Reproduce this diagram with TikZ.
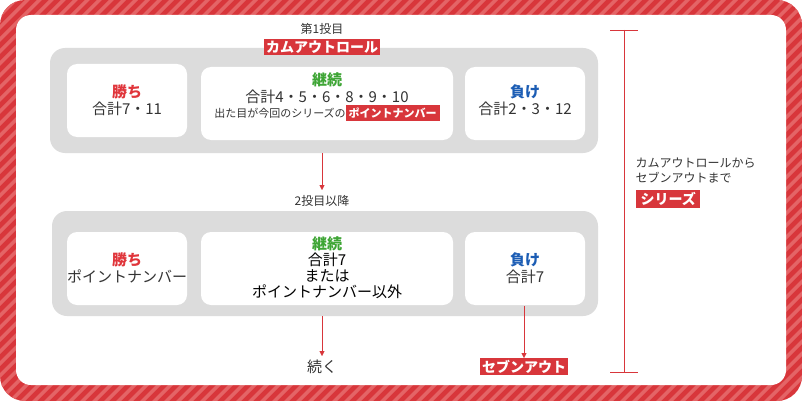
\documentclass[tikz,border=0pt]{standalone}
\usepackage{fontspec}
\setmainfont{Noto Sans CJK JP}
\usetikzlibrary{arrows.meta}
\definecolor{crapsred}{HTML}{D8363B}
\definecolor{stripe}{HTML}{E46466}
\definecolor{winred}{HTML}{E0353B}
\definecolor{contgreen}{HTML}{3EA535}
\definecolor{loseblue}{HTML}{1C5DB4}
\definecolor{panel}{HTML}{DCDCDC}
\definecolor{ink}{HTML}{333333}
\begin{document}
\begin{tikzpicture}[x=1pt,y=-1pt,font=\fontsize{15}{17}\selectfont\color{ink}]
\tikzstyle{cell}=[fill=white, rounded corners=10pt]
\tikzstyle{tag}=[fill=crapsred, text=white, font=\fontsize{14}{16}\selectfont\bfseries, inner sep=2pt]
\tikzstyle{flow}=[crapsred, -{Triangle[length=5pt,width=5pt]}]
\useasboundingbox (0,0) rectangle (802,401);

% Frame
\fill[crapsred, rounded corners=25pt] (0,0) rectangle (802,401);
\begin{scope}
\clip[rounded corners=25pt] (0,0) rectangle (802,401);
\foreach \s in {-400,-388,...,820}
\fill[stripe] (\s,401) -- (\s+5,401) -- (\s+406,0) -- (\s+401,0) -- cycle;
\end{scope}
\fill[white, rounded corners=15pt] (16,15) rectangle (786,385);

% Panels
\fill[panel, rounded corners=15pt] (50,48) rectangle (598,153);
\fill[panel, rounded corners=15pt] (52,211) rectangle (598,316);

% First roll
\fill[cell] (67,64) rectangle (187,137);
\fill[cell] (201,67) rectangle (453,140);
\fill[cell] (465,67) rectangle (585,140);
\node (win1) [align=center] at (127,100) {{\color{winred}\bfseries 勝ち}\\合計7・11};
\node (cont1) [align=center] at (327,97) {{\color{contgreen}\bfseries 継続}\\合計4・5・6・8・9・10\\[-2pt]{\fontsize{11}{13}\selectfont 出た目が今回のシリーズの\colorbox{crapsred}{\color{white}\bfseries ポイントナンバー}}};
\node (lose1) [align=center] at (525,100) {{\color{loseblue}\bfseries 負け}\\合計2・3・12};
\node (roll1) at (322,29) {\fontsize{12}{14}\selectfont 第1投目};
\node (comeout) [tag] at (322,47) {カムアウトロール};

% Later rolls
\fill[cell] (67,232) rectangle (187,305);
\fill[cell] (201,232) rectangle (453,305);
\fill[cell] (465,232) rectangle (585,305);
\node (win2) [align=center] at (127,268) {{\color{winred}\bfseries 勝ち}\\ポイントナンバー};
\node (cont2) [align=center, inner sep=0pt, font=\fontsize{15}{16}\selectfont] at (327,268) {{\color{contgreen}\bfseries 継続}\\合計7\\または\\ポイントナンバー以外};
\node (lose2) [align=center] at (525,268) {{\color{loseblue}\bfseries 負け}\\合計7};
\node (roll2) at (322,201) {\fontsize{12}{14}\selectfont 2投目以降};

\coordinate (p1) at (322,153);
\coordinate (p2) at (322,190);
\coordinate (p3) at (322,316);
\coordinate (p4) at (524,306);
\node (next) [anchor=north] at (322,356) {続く};
\node (sevenout) [tag, anchor=north] at (524,358) {セブンアウト};
\draw[flow] (p1) -- (p2);
\draw[flow] (p3) -- (next.north);
\draw[flow] (p4) -- (sevenout.north);

% Series bracket
\coordinate (b1) at (624,30);
\coordinate (b2) at (624,372);
\draw[crapsred] (b1) -- (b2) (610,30) -- (638,30) (610,372) -- (638,372);
\node (series) [align=left, anchor=west, font=\fontsize{12}{15}\selectfont\color{ink}] at (632,170) {カムアウトロールから\\セブンアウトまで};
\node (seriestag) [tag, anchor=west] at (636,199) {\,シリーズ\,};
\end{tikzpicture}
\end{document}
